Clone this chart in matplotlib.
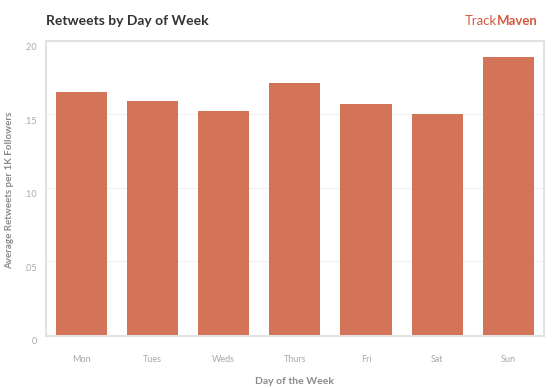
import numpy as np
import matplotlib.pyplot as plt
import matplotlib.transforms as mtransforms

days = ["Mon", "Tues", "Weds", "Thurs", "Fri", "Sat", "Sun"]
retweets = [0.165, 0.159, 0.152, 0.171, 0.157, 0.150, 0.189]
y_ticks = [0, 0.05, 0.10, 0.15, 0.20]
y_tick_labels = ["0", ".05", ".10", ".15", ".20"]

plt.rcParams['font.family'] = ['Lato', 'DejaVu Sans']

fig = plt.figure(figsize=(5.55, 3.88), dpi=100)
ax = fig.add_axes([0.0823, 0.1348, 0.8977, 0.7602])

x = np.arange(len(days))
ax.bar(x, retweets, width=0.72, color="#d37459", zorder=3)

ax.set_xlim(-0.5, len(days) - 0.5)
ax.set_ylim(-0.0008, 0.2)

# cadre gris clair
for s in ax.spines.values():
    s.set_color("#e2e2e2")
    s.set_linewidth(1.5)

ax.set_yticks(y_ticks)
ax.set_yticklabels(y_tick_labels)
ax.set_xticks(x)
ax.set_xticklabels(days)
ax.tick_params(axis="both", length=0, colors="#a8a8a8", labelsize=6.5)
ax.tick_params(axis="x", pad=14)
ax.tick_params(axis="y", pad=6)

# les étiquettes y sont un peu plus bas que les lignes
offset = mtransforms.ScaledTranslation(0, -6 / 100, fig.dpi_scale_trans)
for lab in ax.get_yticklabels():
    lab.set_transform(lab.get_transform() + offset)

ax.yaxis.grid(True, color="#f1f1f1", linewidth=0.8, zorder=0)
ax.set_axisbelow(True)

ax.set_xlabel("Day of the Week", fontsize=7.5, color="#8a8a8a",
              fontweight="bold", labelpad=9)
fig.text(10 / 555, 0.51, "Average Retweets per 1K Followers", fontsize=7,
         color="#8a8a8a", fontweight="bold", rotation=90, va="center", ha="center")

fig.text(0.0823, 0.945, "Retweets by Day of Week", fontsize=10, fontweight="bold",
         color="#333333", va="center", ha="left")

# logo
fig.text(0.895, 0.945, "Track", fontsize=9.5, color="#d35a3f", va="center", ha="right")
fig.text(0.895, 0.945, "Maven", fontsize=9.5, color="#d35a3f", va="center",
         ha="left", fontweight="bold")

fig.savefig("out.png", dpi=100)
